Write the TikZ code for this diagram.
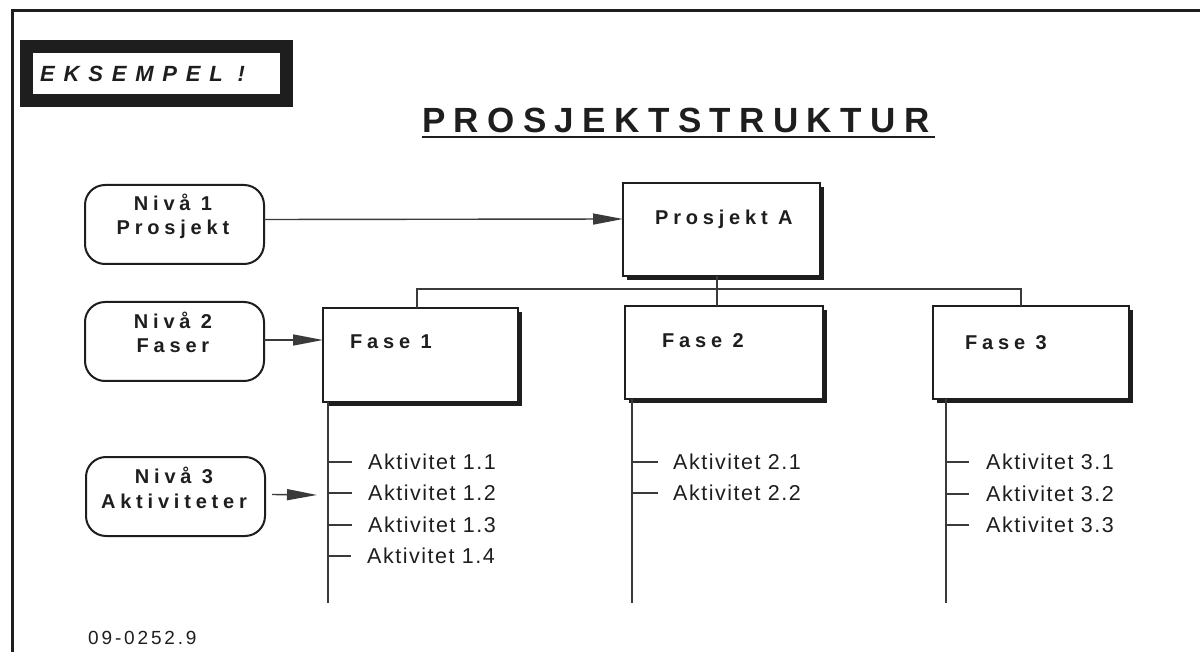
\documentclass[tikz,border=0pt]{standalone}
\usepackage{fontspec}
\setmainfont{Liberation Sans}
\newfontfamily\labfont[LetterSpace=24]{Liberation Sans}
\newfontfamily\actfont[LetterSpace=7]{Liberation Sans}
\newfontfamily\tagfont[LetterSpace=40]{Liberation Sans}
\newfontfamily\numfont[LetterSpace=15]{Liberation Sans}
\usetikzlibrary{arrows.meta,calc,shadows}
\definecolor{ink}{HTML}{1E1E1E}
\definecolor{wire}{HTML}{3A3A3A}
\tikzset{
  frameline/.style={line width=3pt,draw=ink},
  wbox/.style={draw=ink,fill=white,line width=1.3pt,inner sep=0pt,outer sep=0pt,anchor=north west,
    drop shadow={shadow xshift=4pt,shadow yshift=-4pt,opacity=1,fill=ink}},
  lvlbox/.style={draw=ink,line width=2pt,rounded corners=20pt,inner sep=0pt,outer sep=0pt,
    anchor=north west,minimum width=179pt,minimum height=79pt},
  lvltext/.style={font=\labfont\bfseries\fontsize{20}{24.5}\selectfont,text=ink,align=center,
    anchor=base,inner sep=0pt},
  boxtext/.style={font=\labfont\bfseries\fontsize{20}{24}\selectfont,text=ink,anchor=base west,inner sep=0pt},
  acttext/.style={font=\actfont\fontsize{21.5}{24}\selectfont,text=ink,anchor=west,inner sep=0pt},
  conn/.style={draw=wire,line width=1.4pt},
  arr/.style={conn,-{Triangle[length=30pt,width=11pt]}},
}
\begin{document}
\begin{tikzpicture}[x=1pt,y=-1pt]
\useasboundingbox (0,0) rectangle (1200,652);
\fill[white] (0,0) rectangle (1200,652);

% page frame
\draw[frameline] (12,652) -- (12,11) -- (1200,11);

% example tag
\node[draw=ink,line width=13pt,fill=white,inner sep=0pt,outer sep=0pt,anchor=north west,
      minimum width=260pt,minimum height=54pt] (tag) at (26.5,46.5) {};
\node[font=\tagfont\bfseries\itshape\fontsize{22}{24}\selectfont,text=ink,anchor=base west,inner sep=0pt]
  (tagtext) at (40,82) {EKSEMPEL !};

% title
\node[font=\labfont\bfseries\fontsize{35}{40}\selectfont,text=ink,anchor=base west,inner sep=0pt]
  (title) at (422,133) {PROSJEKTSTRUKTUR};
\draw[line width=2.6pt,draw=ink] ([yshift=-4pt]title.base west) -- ([yshift=-4pt,xshift=935pt-422pt]title.base west);

% level boxes (text anchored on the baseline of its second line)
\node[lvlbox] (n1) at (85,185) {};
\node[lvltext] (n1t) at (173,235) {Nivå 1\\Prosjekt};
\node[lvlbox] (n2) at (85,302) {};
\node[lvltext] (n2t) at (173,353) {Nivå 2\\Faser};
\node[lvlbox] (n3) at (86,457) {};
\node[lvltext] (n3t) at (174,508) {Nivå 3\\Aktiviteter};

% project and phase boxes
\node[wbox,minimum width=197pt,minimum height=93pt] (pA) at (623,183) {};
\node[boxtext] (pAt) at (655,225) {Prosjekt A};
\node[wbox,minimum width=195pt,minimum height=94pt] (f1) at (323,308) {};
\node[boxtext] (f1t) at (350,349) {Fase 1};
\node[wbox,minimum width=198pt,minimum height=93pt] (f2) at (625,306) {};
\node[boxtext] (f2t) at (662,348) {Fase 2};
\node[wbox,minimum width=196pt,minimum height=93pt] (f3) at (933,306) {};
\node[boxtext] (f3t) at (965,350) {Fase 3};

% tree connectors
\coordinate (bus) at (717,289);
\draw[conn] ([xshift=-4.5pt]pA.south) -- ([xshift=-4.5pt]pA.south |- f2.north);
\draw[conn] ([xshift=-3.5pt]f1.north) |- (bus) -| ([xshift=-10pt]f3.north);

% level arrows
\coordinate (a3end) at (317,495);
\draw[arr] ([yshift=5pt]n1.east) -- ([yshift=10.5pt]pA.west);
\draw[arr] ([yshift=1.5pt]n2.east) -- ([yshift=15pt]f1.west);
\draw[arr] ([xshift=7pt,yshift=2pt]n3.east) -- (a3end);

% activity spines
\coordinate (f1s) at ([xshift=5pt]f1.south west);
\coordinate (f1e) at (328,603);
\coordinate (f2s) at ([xshift=7pt]f2.south west);
\coordinate (f2e) at (632,603);
\coordinate (f3s) at ([xshift=13pt]f3.south west);
\coordinate (f3e) at (946,603);
\draw[conn] (f1s) -- (f1e);
\draw[conn] (f2s) -- (f2e);
\draw[conn] (f3s) -- (f3e);

% activities
\node[acttext] (a11) at (368,462) {Aktivitet 1.1};
\node[acttext] (a12) at (368,493) {Aktivitet 1.2};
\node[acttext] (a13) at (368,525) {Aktivitet 1.3};
\node[acttext] (a14) at (367,556) {Aktivitet 1.4};
\node[acttext] (a21) at (673,462) {Aktivitet 2.1};
\node[acttext] (a22) at (673,493) {Aktivitet 2.2};
\node[acttext] (a31) at (986,462) {Aktivitet 3.1};
\node[acttext] (a32) at (986,494) {Aktivitet 3.2};
\node[acttext] (a33) at (986,525) {Aktivitet 3.3};
\foreach \a in {a11,a12,a13,a14} \draw[conn] (\a.west -| f1s) -- ([xshift=-16pt]\a.west);
\foreach \a in {a21,a22} \draw[conn] (\a.west -| f2s) -- ([xshift=-15pt]\a.west);
\foreach \a in {a31,a32,a33} \draw[conn] (\a.west -| f3s) -- ([xshift=-17pt]\a.west);

% drawing number
\node[font=\numfont\fontsize{19}{22}\selectfont,text=ink,anchor=base west,inner sep=0pt]
  (docno) at (88,644) {09-0252.9};
\end{tikzpicture}
\end{document}
